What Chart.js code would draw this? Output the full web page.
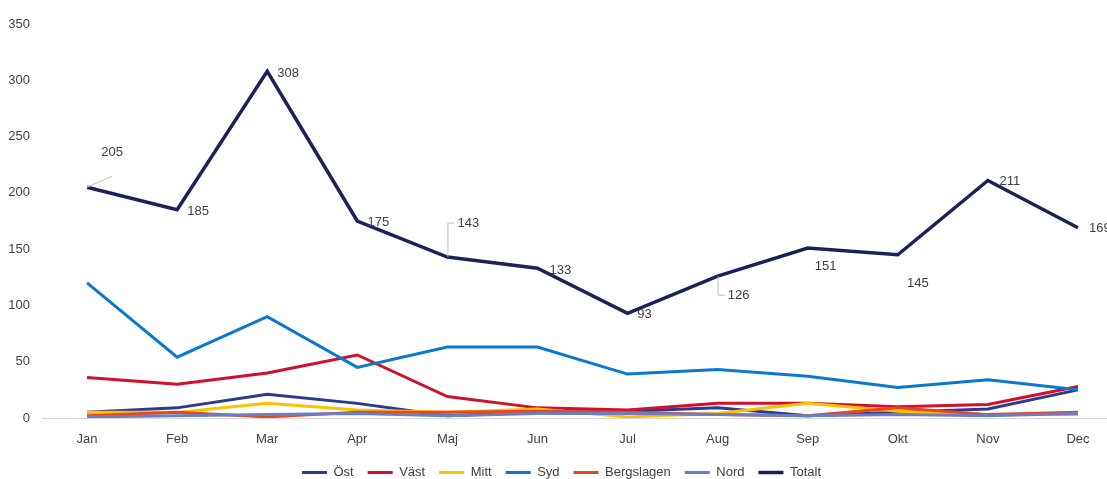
<!DOCTYPE html>
<html>
<head>
<meta charset="utf-8">
<script src="https://cdn.jsdelivr.net/npm/chart.js@4"></script>
<style>
    html, body { margin: 0; padding: 0; background: #fff; overflow: hidden; }
    #wrap { width: 1125px; height: 479px; }
</style>
</head>
<body>
<div id="wrap"><canvas id="regionChart" width="1125" height="479"></canvas></div>
<script>
// data
const months = ['Jan', 'Feb', 'Mar', 'Apr', 'Maj', 'Jun', 'Jul', 'Aug', 'Sep', 'Okt', 'Nov', 'Dec'];
const ost = [5, 9, 21, 13, 2, 5, 6, 9, 2, 5, 8, 25];
const vast = [36, 30, 40, 56, 19, 9, 7, 13, 13, 10, 12, 28];
const mitt = [5, 5, 13, 7, 5, 8, 1, 4, 13, 6, 3, 3];
const syd = [120, 54, 90, 45, 63, 63, 39, 43, 37, 27, 34, 25];
const bergslagen = [2, 5, 1, 5, 5, 6, 5, 3, 2, 9, 3, 5];
const nord = [1, 2, 3, 4, 2, 4, 4, 3, 2, 3, 2, 4];
const totalt = [205, 185, 308, 175, 143, 133, 93, 126, 151, 145, 211, 169];
const yTicks = [0, 50, 100, 150, 200, 250, 300, 350];

const FONT = '"Liberation Sans", Arial, sans-serif';

// labels for Totalt: offset from the point, some with a leader line
const totaltLabels = {
    id: 'totaltLabels',
    afterDatasetsDraw(chart) {
        const idx = chart.data.datasets.findIndex(d => d.label === 'Totalt');
        const meta = chart.getDatasetMeta(idx);
        const offs = [[25, -35], [21, 2], [21, 2], [21, 1], [21, -34], [23, 2], [17, 1], [21, 19], [18, 18], [20, 29], [22, 1], [22, 1]];
        const ctx = chart.ctx;
        ctx.save();
        ctx.font = '13px ' + FONT;
        ctx.fillStyle = '#404040';
        ctx.textAlign = 'center';
        ctx.textBaseline = 'middle';
        ctx.strokeStyle = '#bfbfbf';
        ctx.lineWidth = 1;
        meta.data.forEach((pt, i) => {
            const tx = pt.x + offs[i][0];
            const ty = pt.y + offs[i][1];
            if (i === 0) {
                ctx.beginPath();
                ctx.moveTo(pt.x, pt.y);
                ctx.lineTo(pt.x + 25, pt.y - 11);
                ctx.stroke();
            } else if (i === 4 || i === 7) {
                ctx.beginPath();
                ctx.moveTo(pt.x + 0.5, pt.y);
                ctx.lineTo(pt.x + 0.5, ty);
                ctx.lineTo(pt.x + 7, ty);
                ctx.stroke();
            }
            ctx.fillText(String(totalt[i]), tx, ty);
        });
        ctx.restore();
    }
};

function line(label, data, color, order, width) {
    return {
        label: label,
        data: data,
        borderColor: color,
        backgroundColor: color,
        borderWidth: width || 3,
        pointRadius: 0,
        pointHoverRadius: 0,
        tension: 0,
        fill: false,
        order: order
    };
}

const ctx = document.getElementById('regionChart').getContext('2d');

new Chart(ctx, {
    type: 'line',
    data: {
        labels: months,
        datasets: [
            line('Öst', ost, '#2B3A8F', 7),
            line('Väst', vast, '#D0112B', 6),
            line('Mitt', mitt, '#FFC000', 5),
            line('Syd', syd, '#0A78CF', 4),
            line('Bergslagen', bergslagen, '#E8461E', 3),
            line('Nord', nord, '#6D7DC2', 2),
            line('Totalt', totalt, '#1B2159', 1, 3.5)
        ]
    },
    options: {
        responsive: false,
        animation: false,
        layout: { padding: { top: 24, right: 2, left: 0, bottom: -10 } },
        plugins: {
            legend: {
                position: 'bottom',
                labels: {
                    font: { family: FONT, size: 13 },
                    color: '#404040',
                    usePointStyle: true,
                    pointStyle: 'line',
                    pointStyleWidth: 25,
                    padding: 14,
                    sort: (a, b) => a.datasetIndex - b.datasetIndex
                }
            },
            tooltip: { enabled: false },
            title: { display: false }
        },
        scales: {
            x: {
                offset: true,
                grid: { display: false },
                border: { display: true, color: '#d9d9d9', width: 1 },
                ticks: { font: { family: FONT, size: 13 }, color: '#404040', padding: 6 },
                afterFit: scale => { scale.height = 34; }
            },
            y: {
                min: 0,
                max: 350,
                afterBuildTicks: scale => { scale.ticks = yTicks.map(v => ({ value: v })); },
                afterFit: scale => { scale.width = 42; },
                grid: { display: false },
                border: { display: false },
                ticks: { font: { family: FONT, size: 13 }, color: '#404040', padding: 4 }
            }
        }
    },
    plugins: [totaltLabels]
});
</script>
</body>
</html>
